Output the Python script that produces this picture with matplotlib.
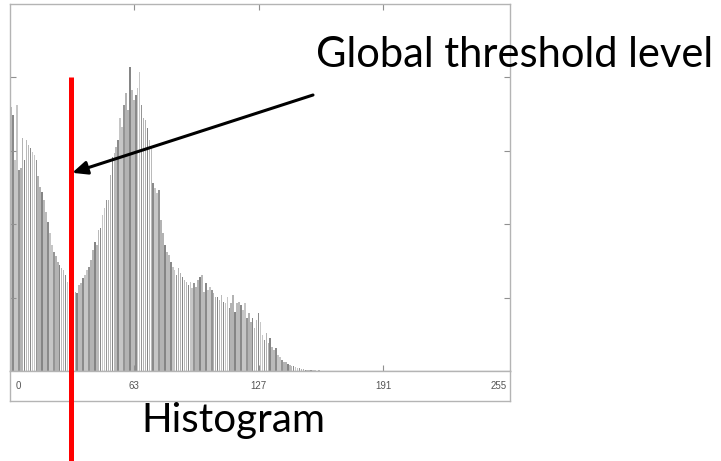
import numpy as np
import matplotlib
matplotlib.use("Agg")
import matplotlib.pyplot as plt
from matplotlib.lines import Line2D
from matplotlib.transforms import blended_transform_factory

# Pixel counts per gray level 0..160 (levels above are empty)
counts = [
    3600, 3490, 2870, 3620, 2740, 2770, 3170, 2870, 3150, 3080,
    3040, 2980, 2940, 2870, 2660, 2510, 2440, 2330, 2170, 2030,
    1880, 1720, 1620, 1570, 1490, 1440, 1400, 1380, 1310, 1210,
    1170, 1100, 1060, 1080, 1060, 1170, 1200, 1270, 1310, 1380,
    1420, 1510, 1650, 1760, 1720, 1920, 1950, 2130, 2220, 2330,
    2330, 2670, 2920, 2970, 3050, 3150, 3450, 3320, 3620, 3790,
    3560, 4140, 3830, 3690, 3760, 3860, 4070, 3620, 3450, 3420,
    3310, 3150, 3050, 2560, 2490, 2430, 2470, 2060, 1880, 1720,
    1620, 1580, 1490, 1420, 1380, 1310, 1400, 1340, 1280, 1240,
    1210, 1170, 1210, 1130, 1200, 1140, 1240, 1280, 1310, 1080,
    1200, 1100, 1140, 1100, 1060, 1010, 1010, 970, 1040, 940,
    930, 1010, 860, 930, 1040, 800, 930, 940, 900, 830,
    930, 720, 790, 670, 720, 590, 690, 790, 670, 490,
    420, 520, 380, 450, 330, 290, 310, 220, 190, 150,
    120, 120, 100, 80, 70, 70, 50, 40, 40, 30,
    30, 20, 20, 10, 10, 10, 10, 0, 10, 0,
    5,
]
levels = np.arange(256)
hist = np.zeros(256)
hist[:len(counts)] = counts

xtick_values = [0, 63, 127, 191, 255]
xtick_labels = ["0", "63", "127", "191", "255"]
ytick_values = [1000, 2000, 3000, 4000]
threshold = 30.6
threshold_top = 4000

title_text = "Global threshold level"
caption_text = "Histogram"

W, H = 721, 461
fig = plt.figure(figsize=(W / 100, H / 100), dpi=100)
fig.patch.set_facecolor("white")

def fig_rect(x0, y0, x1, y1):
    return [x0 / W, 1 - y1 / H, (x1 - x0) / W, (y1 - y0) / H]

spine_col = "#b4b4b4"
ax = fig.add_axes(fig_rect(10, 4, 510, 371))
strip = fig.add_axes(fig_rect(10, 371, 510, 401))

shades = ["#bababa", "#858585", "#b3b3b3", "#959595", "#c6c6c6", "#8a8a8a"]
bar_colors = [shades[(i * 5 + i // 3) % len(shades)] for i in levels]
ax.bar(levels, hist, width=0.8, color=bar_colors, linewidth=0)

ax.set_xlim(-0.5, 256)
ax.set_ylim(0, 5000)
ax.set_xticks(xtick_values[1:-1])
ax.set_yticks(ytick_values)
ax.tick_params(axis="both", which="both", direction="in", length=4, width=0.8,
               color="#909090", labelbottom=False, labelleft=False,
               top=True, right=True, bottom=True, left=True)
for s in ax.spines.values():
    s.set_color(spine_col)
    s.set_linewidth(1.0)

strip.set_xlim(-0.5, 256)
strip.set_ylim(0, 1)
strip.set_yticks([])
strip.set_xticks([])
for s in strip.spines.values():
    s.set_color(spine_col)
    s.set_linewidth(1.0)
for v, lab in zip(xtick_values, xtick_labels):
    ha = "center"
    xv = v
    if v == 0:
        ha, xv = "left", 2.5
    elif v == 255:
        ha, xv = "right", 254.5
    strip.text(xv, 0.5, lab, ha=ha, va="center", fontsize=7,
               family="Liberation Sans", color="#555555")

# Threshold marker running from the plot down to the figure edge
tr = blended_transform_factory(ax.transData, fig.transFigure)
y_top_fig = ax.transData.transform((0, threshold_top))[1] / fig.bbox.height
fig.add_artist(Line2D([threshold, threshold], [0, y_top_fig], transform=tr,
                      color="#ff0000", linewidth=3.6, solid_capstyle="butt",
                      zorder=5))

# Arrow from the label to the threshold line
ax.annotate("", xy=(threshold + 0.8, 2700), xycoords="data",
            xytext=(313 / W, 1 - 95 / H), textcoords="figure fraction",
            arrowprops=dict(arrowstyle="-|>,head_length=0.9,head_width=0.4",
                            color="black", lw=2.2, shrinkA=0, shrinkB=0),
            annotation_clip=False, zorder=6)

fig.text(316 / W, 1 - 67 / H, title_text, ha="left", va="baseline",
         fontsize=30, family="Lato", color="black", zorder=7)
fig.text(233 / W, 1 - 432 / H, caption_text, ha="center", va="baseline",
         fontsize=29, family="Lato", color="black")

fig.savefig("out.png", dpi=100, facecolor="white")
